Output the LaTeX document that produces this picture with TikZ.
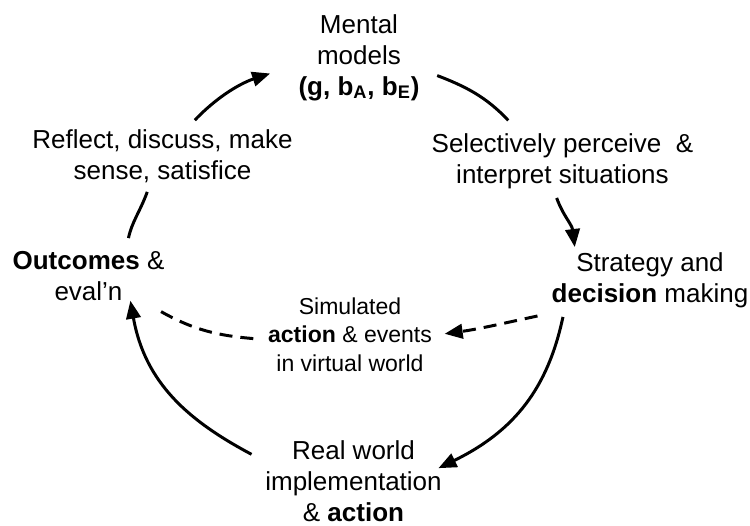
\documentclass[tikz,border=0pt]{standalone}
\usepackage{fontspec}
\setmainfont{Liberation Sans}
\usetikzlibrary{arrows.meta}

\begin{document}
\begin{tikzpicture}[
  etapa/.style={align=center, inner sep=0.18cm, font=\fontsize{14.8}{17.6}\selectfont},
  etapachica/.style={align=center, inner sep=0.15cm, font=\fontsize{13.1}{16.2}\selectfont},
  flecha/.style={line width=1.7pt, -{Triangle[length=3.6mm, width=2.9mm]}},
  linea/.style={line width=1.7pt},
  discontinua/.style={line width=1.7pt, dash pattern=on 0.26cm off 0.16cm}
]
  \useasboundingbox (-7.06,-5.06) rectangle (7.94,5.44);

  % Nodos del ciclo
  \node[etapa] (mental) at (0.12,4.29) {Mental\\models\\\textbf{(g, b\textsubscript{A}, b\textsubscript{E})}};
  \node[etapa] (percibir) at (4.19,2.22) {Selectively perceive\ \ \&\\interpret situations};
  \node[etapa] (estrategia) at (5.94,-0.16) {Strategy and\\\textbf{decision} making};
  \node[etapa] (real) at (0.01,-4.18) {Real world\\implementation\\\& \textbf{action}};
  \node[etapa] (resultados) at (-5.29,-0.08) {\textbf{Outcomes} \&\\eval’n};
  \node[etapa] (reflexion) at (-3.81,2.32) {Reflect, discuss, make\\sense, satisfice};

  % Nodo del centro
  \node[etapachica] (simulada) at (-0.06,-1.25) {Simulated\\\textbf{action} \& events\\in virtual world};

  % Conexiones del ciclo
  \draw[flecha, shorten >=0.4cm] (reflexion.48) to[out=46, in=198] (mental.188);
  \draw[linea, shorten <=0.18cm, shorten >=0.1cm] (mental.-12) to[out=-21, in=133] (percibir.144);
  \draw[flecha, shorten >=-0.08cm] (percibir.261) to[out=-70, in=97] (estrategia.154);
  \draw[flecha, shorten >=-0.28cm] (estrategia.203) to[out=-102, in=26] (real.11);
  \draw[flecha, shorten <=0.1cm, shorten >=-0.19cm] (real.166) to[out=152, in=-80] (resultados.-38);
  \draw[linea, shorten <=0.08cm] (resultados.41) to[out=78, in=250] (reflexion.247);

  % Camino simulado
  \draw[discontinua, -{Triangle[length=3.6mm, width=2.9mm]}, shorten <=0.1cm, shorten >=0.1cm] (estrategia.198) to[out=192, in=8] (simulada.east);
  \draw[discontinua, shorten <=0.14cm] (simulada.183) to[out=175, in=-30] (resultados.-26);
\end{tikzpicture}
\end{document}
